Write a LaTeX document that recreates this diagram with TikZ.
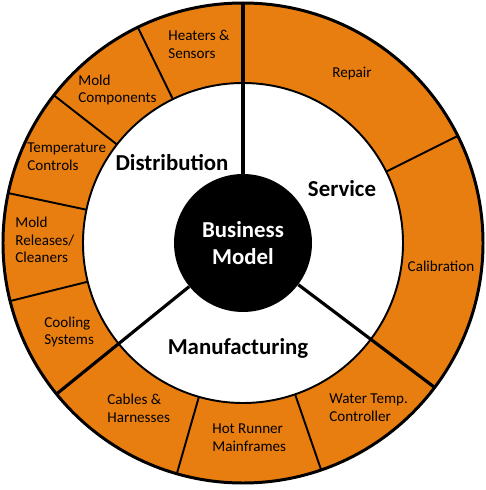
\documentclass[tikz,border=0pt]{standalone}
\usepackage{fontspec}
\setmainfont{Carlito}
\usetikzlibrary{positioning}
\definecolor{ringorange}{HTML}{E97E10}
\tikzset{
  % ring
  rim/.style={draw=black,line width=1.7pt},
  inrim/.style={draw=black,line width=1.1pt},
  cut/.style={draw=black,line width=1.1pt},
  mainsplit/.style={draw=black,line width=1.8pt},
  hub/.style={circle,fill=black,inner sep=0pt,minimum size=2.76cm,text=white,
              align=center,font=\fontsize{13}{15.3}\selectfont\bfseries},
  % texts
  lbl/.style={font=\fontsize{8.6}{10.1}\selectfont,align=left,inner sep=0pt},
  sect/.style={font=\fontsize{13}{15.3}\selectfont\bfseries,inner sep=0pt},
}
\begin{document}
\begin{tikzpicture}[x=0.02cm,y=0.02cm]
  \useasboundingbox (0,0) rectangle (485,490);
  \coordinate (c) at (243,247);
  \begin{scope}[shift={(c)}]
  \fill[ringorange] (0,0) circle[radius=240];
  \fill[white] (0,0) circle[radius=160];
  \foreach \a in {116,142,168,194,254,289,26.5}
    \draw[cut] (\a:160) -- (\a:240);
  \draw[inrim] (0,0) circle[radius=160];
  \draw[rim] (0,0) circle[radius=240];
  \node[hub] (core) at (0,0) {Business\\Model};
  \foreach \a in {90,323,219}
    \draw[mainsplit] (core.\a) -- (\a:240);
  \end{scope}
  % sectors
  \node[sect] (distr) at (172,327) {Distribution};
  \node[sect] (service) at (342,301) {Service};
  \node[sect] (manuf) at (238,142) {Manufacturing};
  % ring labels
  \node[lbl,anchor=west] (heaters) at (168,445.5) {Heaters \&\\Sensors};
  \node[lbl,anchor=west] (moldcomp) at (78,400) {Mold\\Components};
  \node[lbl,anchor=west] (tempctrl) at (27,333) {Temperature\\Controls};
  \node[lbl,anchor=west] (release) at (15,250) {Mold\\Releases/\\Cleaners};
  \node[lbl,anchor=west] (cooling) at (44,158) {Cooling\\Systems};
  \node[lbl,anchor=west] (cables) at (107,81.5) {Cables \&\\Harnesses};
  \node[lbl,anchor=west] (hotrunner) at (212,52.5) {Hot Runner\\Mainframes};
  \node[lbl,anchor=west] (watertemp) at (329,82) {Water Temp.\\Controller};
  \node[lbl] (calib) at (441,224) {Calibration};
  \node[lbl] (repair) at (352,416) {Repair};
\end{tikzpicture}
\end{document}
